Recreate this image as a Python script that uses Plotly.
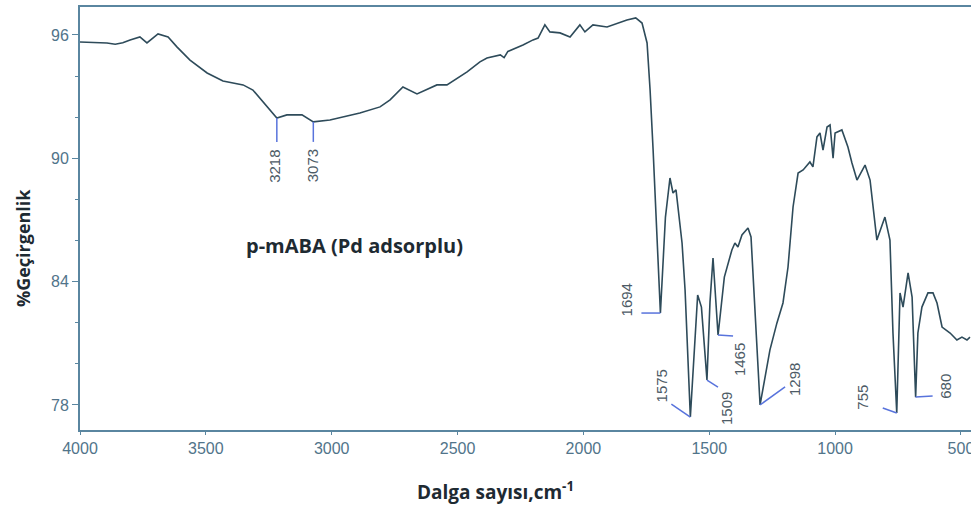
import plotly.graph_objects as go

# ---- data ----
wavenumber = [4000, 3893, 3860, 3830, 3801, 3762, 3734, 3690, 3650, 3615, 3563, 3495, 3432,
              3352, 3313, 3257, 3218, 3178, 3118, 3073, 3007, 2888, 2808, 2768, 2717, 2661,
              2582, 2542, 2462, 2411, 2383, 2330, 2315, 2300, 2240, 2200, 2180, 2153, 2133,
              2093, 2053, 2014, 1994, 1962, 1906, 1827, 1792, 1767, 1747, 1735, 1723, 1694,
              1674, 1656, 1644, 1632, 1608, 1596, 1575, 1546, 1531, 1509, 1497, 1485, 1475,
              1465, 1440, 1410, 1398, 1386, 1370, 1346, 1334, 1318, 1298, 1259, 1231, 1207,
              1187, 1167, 1147, 1127, 1100, 1088, 1072, 1060, 1048, 1032, 1020, 1008, 1000,
              973, 949, 933, 913, 881, 861, 834, 814, 802, 782, 770, 755, 742, 730, 722, 710,
              694, 680, 671, 655, 631, 611, 595, 575, 543, 516, 496, 476, 464]
transmittance = [95.66, 95.61, 95.55, 95.62, 95.76, 95.90, 95.61, 96.05, 95.90, 95.42, 94.78,
                 94.15, 93.76, 93.57, 93.32, 92.50, 91.96, 92.11, 92.11, 91.77, 91.86, 92.20,
                 92.50, 92.84, 93.47, 93.13, 93.57, 93.57, 94.20, 94.69, 94.88, 95.03, 94.90,
                 95.20, 95.51, 95.76, 95.85, 96.49, 96.15, 96.10, 95.90, 96.49, 96.15, 96.49,
                 96.39, 96.73, 96.83, 96.58, 95.61, 93.32, 90.40, 82.47, 87.14, 89.04, 88.31,
                 88.46, 85.88, 83.59, 77.41, 83.35, 82.76, 79.21, 83.00, 85.15, 83.50, 81.40,
                 84.22, 85.54, 85.88, 85.68, 86.27, 86.61, 86.17, 82.28, 78.00, 80.67, 81.99,
                 82.96, 84.71, 87.63, 89.28, 89.43, 89.82, 89.58, 91.04, 91.23, 90.40, 91.52,
                 91.62, 90.01, 91.23, 91.38, 90.55, 89.77, 88.94, 89.67, 88.94, 86.02, 86.66,
                 87.14, 86.02, 81.50, 77.61, 83.45, 82.76, 83.45, 84.42, 83.25, 78.38, 81.50,
                 82.76, 83.45, 83.45, 82.96, 81.79, 81.50, 81.16, 81.30, 81.16, 81.30]

peak_wn = [3218, 3073, 1694, 1575, 1509, 1465, 1298, 755, 680]
peak_labels = ["3218", "3073", "1694", "1575", "1509", "1465", "1298", "755", "680"]
# leader-line end offset (px, +y = up) and label offset (px)
leader_dx = [0, 0, -19, -19, 11, 15, 25, -14, 17]
leader_dy = [-24, -20, 0, 13, -7, -1, 18, 5, 1]
label_dx = [-2, 0, -34, -29, 19, 21, 35, -34, 29]
label_dy = [-48, -44, 13, 31, -28, -25, 25, 16, 11]

x_ticks = [4000, 3500, 3000, 2500, 2000, 1500, 1000, 500]
y_ticks = [78, 84, 90, 96]

AXIS = "#5a86a0"
TICKTXT = "#51748a"
LEAD = "#5873dc"

fig = go.Figure()
fig.add_trace(go.Scatter(x=wavenumber, y=transmittance, mode="lines",
                         line=dict(color="#2e4b5a", width=1.6), hoverinfo="skip"))

lookup = dict(zip(wavenumber, transmittance))
shapes, annots = [], []
for wn, lab, ldx, ldy, tdx, tdy in zip(peak_wn, peak_labels, leader_dx, leader_dy, label_dx, label_dy):
    t = lookup[wn]
    shapes.append(dict(type="line", xref="x", yref="y", xsizemode="pixel", ysizemode="pixel",
                       xanchor=wn, yanchor=t, x0=0, y0=0, x1=ldx, y1=ldy,
                       line=dict(color=LEAD, width=1.5)))
    annots.append(dict(x=wn, y=t, xref="x", yref="y", text=lab, showarrow=False,
                       textangle=-90, xshift=tdx, yshift=tdy, xanchor="center", yanchor="middle",
                       font=dict(family="Liberation Sans, Arial", size=15, color="#4d5b66")))

annots.append(dict(x=0.3086, y=0.435, xref="paper", yref="paper", text="<b>p-mABA (Pd adsorplu)</b>",
                   showarrow=False, xanchor="center", yanchor="middle",
                   font=dict(family="Open Sans", size=20, color="#1e2a32")))
annots.append(dict(x=-0.064, y=0.43, xref="paper", yref="paper", text="<b>%Geçirgenlik</b>",
                   showarrow=False, textangle=-90, xanchor="center", yanchor="middle",
                   font=dict(family="Open Sans", size=18, color="#1e2a32")))
annots.append(dict(x=0.466, y=-0.144, xref="paper", yref="paper", text="<b>Dalga sayısı,cm<sup>-1</sup></b>",
                   showarrow=False, xanchor="center", yanchor="middle",
                   font=dict(family="Open Sans", size=19, color="#1e2a32")))

fig.update_layout(
    width=971, height=514,
    margin=dict(l=80, r=0, t=7, b=84, autoexpand=False),
    paper_bgcolor="white", plot_bgcolor="white",
    showlegend=False,
    shapes=shapes, annotations=annots,
    xaxis=dict(range=[4000, 460], tickvals=x_ticks, ticktext=[str(v) for v in x_ticks],
               showgrid=False, zeroline=False, showline=True, linecolor=AXIS, linewidth=2,
               mirror=True, ticks="outside", ticklen=3, tickcolor=AXIS,
               ticklabeloverflow="allow", automargin=False,
               tickfont=dict(family="Liberation Sans, Arial", size=16, color=TICKTXT)),
    yaxis=dict(range=[76.78, 97.36], tickvals=y_ticks, ticktext=[str(v) for v in y_ticks],
               showgrid=False, zeroline=False, showline=True, linecolor=AXIS, linewidth=2,
               mirror=False, ticks="outside", ticklen=6, tickcolor=AXIS, automargin=False,
               minor=dict(dtick=2, tick0=78, ticks="outside", ticklen=3, tickcolor=AXIS),
               tickfont=dict(family="Liberation Sans, Arial", size=16, color=TICKTXT)),
)

fig.write_html("out.html", config={"displayModeBar": False})
